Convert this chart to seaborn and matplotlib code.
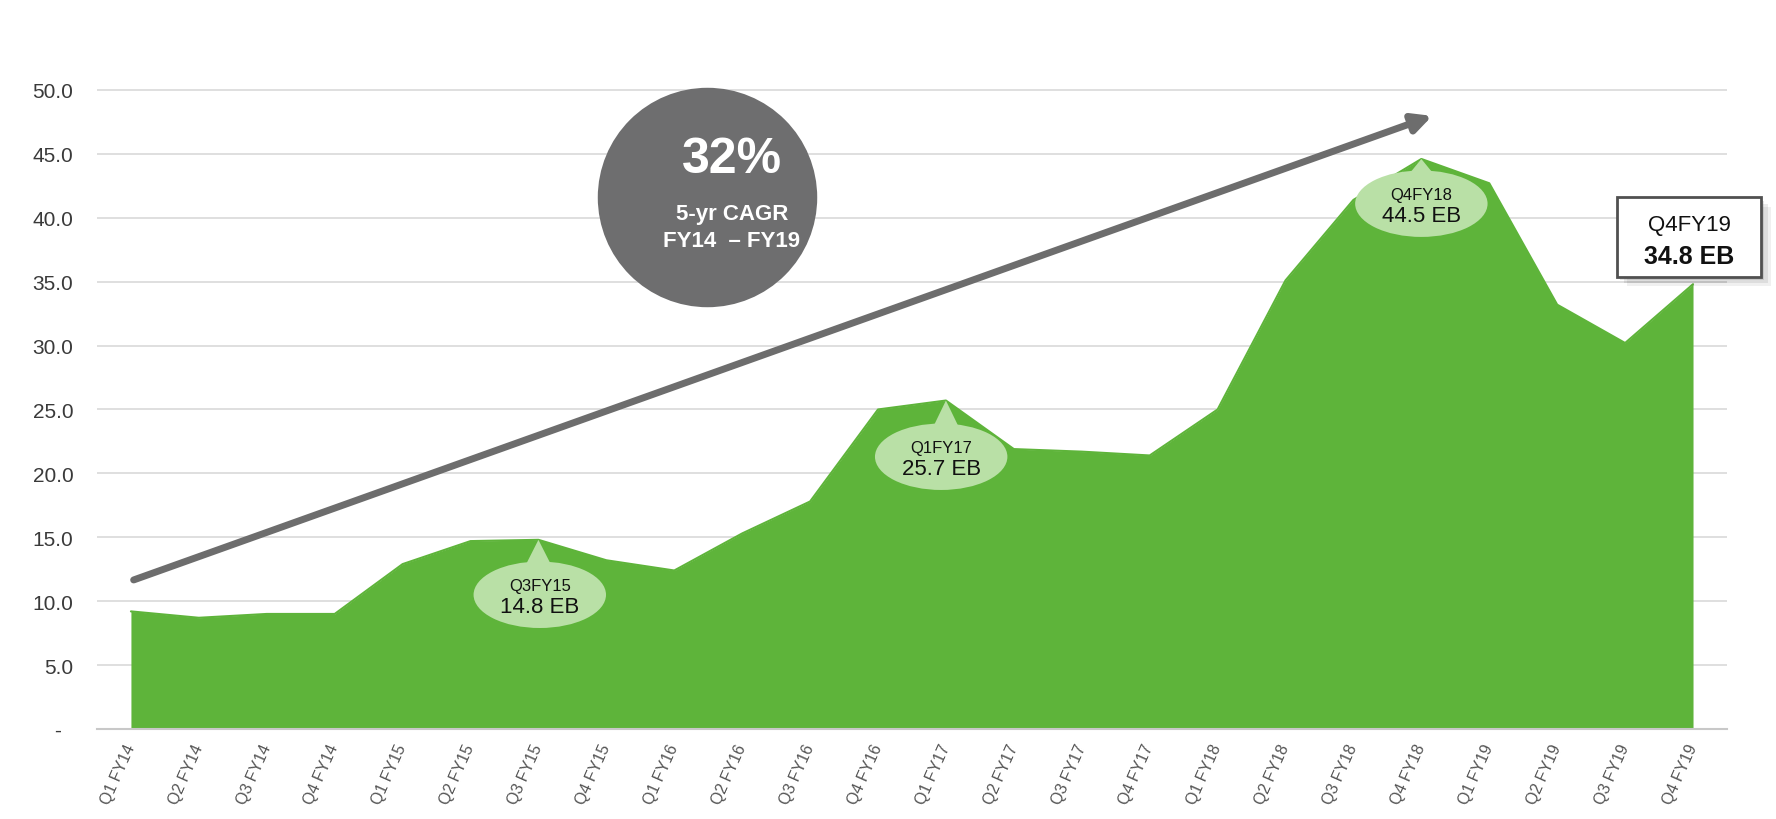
import numpy as np
import pandas as pd
import matplotlib
matplotlib.use("Agg")
import matplotlib.pyplot as plt
import seaborn as sns
from matplotlib.patches import Ellipse, Polygon, Rectangle

# Quarterly data (EB)
quarters = ["Q1 FY14", "Q2 FY14", "Q3 FY14", "Q4 FY14",
            "Q1 FY15", "Q2 FY15", "Q3 FY15", "Q4 FY15",
            "Q1 FY16", "Q2 FY16", "Q3 FY16", "Q4 FY16",
            "Q1 FY17", "Q2 FY17", "Q3 FY17", "Q4 FY17",
            "Q1 FY18", "Q2 FY18", "Q3 FY18", "Q4 FY18",
            "Q1 FY19", "Q2 FY19", "Q3 FY19", "Q4 FY19"]
volume = [9.2, 8.7, 9.0, 9.0,
          12.9, 14.7, 14.8, 13.2,
          12.4, 15.3, 17.8, 25.0,
          25.7, 21.9, 21.7, 21.4,
          25.0, 35.1, 41.4, 44.6,
          42.7, 33.2, 30.2, 34.8]
yticks = [0, 5, 10, 15, 20, 25, 30, 35, 40, 45, 50]
ytick_labels = ["-  ", "5.0", "10.0", "15.0", "20.0", "25.0", "30.0",
                "35.0", "40.0", "45.0", "50.0"]

# callouts: (quarter index, title, value text)
callouts = [(6, "Q3FY15", "14.8 EB"), (12, "Q1FY17", "25.7 EB"), (19, "Q4FY18", "44.5 EB")]
callout_centers = [(6.02, 10.5), (11.93, 21.3), (19.0, 41.1)]

df = pd.DataFrame({"quarter": quarters, "volume": volume})
df["idx"] = np.arange(len(df))

sns.set_theme(style="white")
plt.rcParams["font.family"] = ["Liberation Sans", "DejaVu Sans"]

green = "#5eb43a"
light_green = "#b9e0a6"
grey = "#6e6e6f"

fig = plt.figure(figsize=(17.76, 8.2), dpi=100)
ax = fig.add_axes([0.0546, 0.1098, 0.9178, 0.8572])

ax.fill_between(df["idx"], df["volume"], 0, color=green, lw=0, zorder=2)
sns.lineplot(data=df, x="idx", y="volume", color=green, lw=1.5, ax=ax, zorder=2)

ax.set_xlim(-0.5, 23.5)
ax.set_ylim(0, 55)
ax.set_yticks(yticks)
ax.set_yticklabels(ytick_labels, fontsize=15, color="#3a3a3a")
ax.tick_params(axis="y", length=0, pad=17)
ax.yaxis.grid(True, color="#d9d9d9", lw=1.2, zorder=0)
ax.set_axisbelow(True)

ax.set_xticks(df["idx"])
ax.set_xticklabels(quarters, rotation=66, ha="right", va="center",
                   rotation_mode="anchor", fontsize=11.5, color="#555555")
ax.tick_params(axis="x", which="major", length=0, pad=11)
ax.set_xticks(np.arange(-0.5, 24, 1), minor=True)
ax.tick_params(axis="x", which="minor", length=5, width=1.2, color="#c8c8c8", direction="out")
ax.set_xlabel("")
ax.set_ylabel("")

for s in ["top", "right", "left"]:
    ax.spines[s].set_visible(False)
ax.spines["bottom"].set_color("#c8c8c8")
ax.spines["bottom"].set_linewidth(1.5)

# growth arrow
ax.annotate("", xy=(19.16, 47.97), xytext=(0.04, 11.66),
            arrowprops=dict(arrowstyle="-|>", lw=5, color="#6d6d6d",
                            mutation_scale=28, shrinkA=0, shrinkB=0),
            zorder=5)

# CAGR circle
ax.scatter([8.48], [41.6], s=158 ** 2, color=grey, lw=0, zorder=6, clip_on=False)
ax.text(8.85, 44.6, "32%", fontsize=36, fontweight="bold", color="white",
        ha="center", va="center", zorder=7)
ax.text(8.85, 40.3, "5-yr CAGR", fontsize=16, fontweight="bold", color="white",
        ha="center", va="center", zorder=7)
ax.text(8.85, 38.2, "FY14  \u2013 FY19", fontsize=16, fontweight="bold", color="white",
        ha="center", va="center", zorder=7)

# peak callouts
ew, eh = 1.95, 5.2
for (i, title, val), (cx, cy) in zip(callouts, callout_centers):
    tip = (i, volume[i])
    base_y = cy + eh / 2 - 0.4
    ax.add_patch(Polygon([tip, (i - 0.2, base_y), (i + 0.2, base_y)],
                         closed=True, color=light_green, lw=0, zorder=3))
    ax.add_patch(Ellipse((cx, cy), ew, eh, color=light_green, lw=0, zorder=3))
    ax.text(cx, cy + 0.7, title, fontsize=12, color="#111111",
            ha="center", va="center", zorder=4)
    ax.text(cx, cy - 0.9, val, fontsize=16, color="#111111",
            ha="center", va="center", zorder=4)

# last-quarter box with shadow
bx0, by0, bw, bh = 21.88, 35.4, 2.12, 6.2
for k, a in enumerate([0.10, 0.08, 0.06]):
    off = 0.05 * (k + 1)
    ax.add_patch(Rectangle((bx0 + off, by0 - 0.25 * (k + 1)), bw, bh, color="black",
                           alpha=a, lw=0, zorder=7, clip_on=False))
ax.add_patch(Rectangle((bx0, by0), bw, bh, facecolor="white", edgecolor="#505050",
                       lw=2, zorder=8, clip_on=False))
ax.text(bx0 + bw / 2, 39.5, "Q4FY19", fontsize=16, color="#111111",
        ha="center", va="center", zorder=9, clip_on=False)
ax.text(bx0 + bw / 2, 37.0, "34.8 EB", fontsize=18, fontweight="bold", color="#111111",
        ha="center", va="center", zorder=9, clip_on=False)

fig.savefig("out.png", dpi=100)
